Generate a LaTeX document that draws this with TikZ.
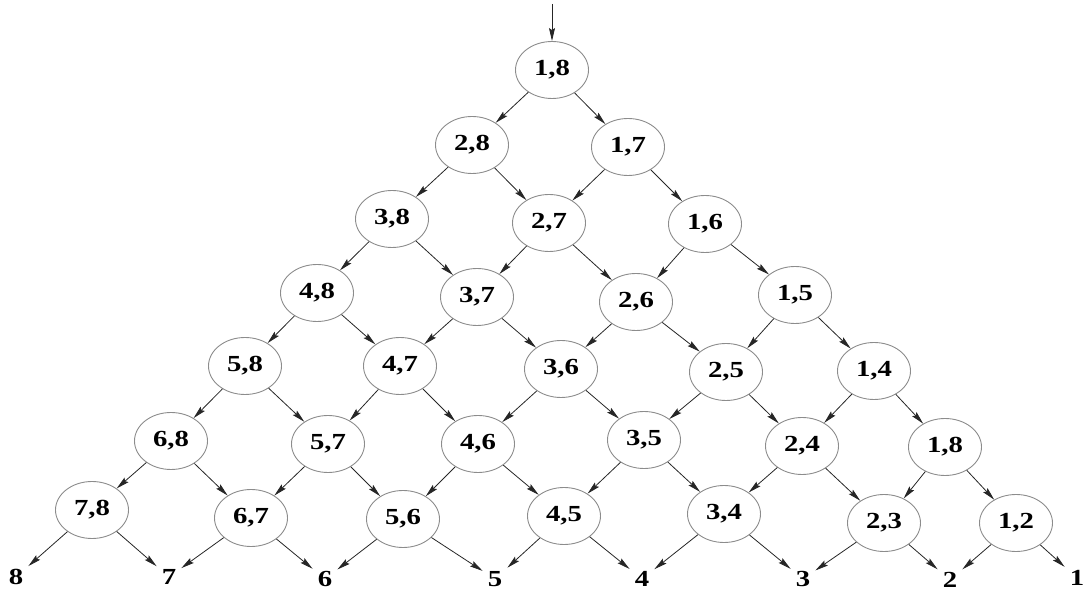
\documentclass[tikz,border=0pt]{standalone}
\usepackage{fontspec}
\newfontfamily\cellfont[FakeStretch=1.25]{Liberation Serif}
\usetikzlibrary{arrows.meta, shapes.geometric}
\tikzset{
    cell/.style={ellipse, draw=gray!90, line width=0.9pt, minimum width=73pt, minimum height=57pt, inner sep=0pt, font=\cellfont\bfseries\fontsize{23}{23}\selectfont},
    leaf/.style={inner sep=5pt, font=\cellfont\bfseries\fontsize{23}{23}\selectfont},
    line/.style={-{Stealth[length=13pt, width=6pt, inset=2pt]}, line width=0.8pt, gray!30!black}
}

\begin{document}
\begin{tikzpicture}[x=1pt, y=-1pt]
        	\useasboundingbox (0,0) rectangle (1085,593);
        	% Lưới tam giác các cặp chỉ số
        	\node (root) [cell] at (552,70) {1,8};
        	\node (p28) [cell] at (472,145) {2,8};
        	\node (p17) [cell] at (628,147) {1,7};
        	\node (p38) [cell] at (392,219) {3,8};
        	\node (p27) [cell] at (549,223) {2,7};
        	\node (p16) [cell] at (705,224) {1,6};
        	\node (p48) [cell] at (317,293) {4,8};
        	\node (p37) [cell] at (477,297) {3,7};
        	\node (p26) [cell] at (636,302) {2,6};
        	\node (p15) [cell] at (795,295) {1,5};
        	\node (p58) [cell] at (245,366) {5,8};
        	\node (p47) [cell] at (400,366) {4,7};
        	\node (p36) [cell] at (561,369) {3,6};
        	\node (p25) [cell] at (726,372) {2,5};
        	\node (p14) [cell] at (874,371) {1,4};
        	\node (p68) [cell] at (171,441) {6,8};
        	\node (p57) [cell] at (328,444) {5,7};
        	\node (p46) [cell] at (478,444) {4,6};
        	\node (p35) [cell] at (644,440) {3,5};
        	\node (p24) [cell] at (802,446) {2,4};
        	\node (p18) [cell] at (945,447) {1,8};
        	\node (p78) [cell] at (92,510) {7,8};
        	\node (p67) [cell] at (251,518) {6,7};
        	\node (p56) [cell] at (403,519) {5,6};
        	\node (p45) [cell] at (564,516) {4,5};
        	\node (p34) [cell] at (724,514) {3,4};
        	\node (p23) [cell] at (884,523) {2,3};
        	\node (p12) [cell] at (1016,523) {1,2};
        	
        	\node (l8) [leaf] at (16,577) {8};
        	\node (l7) [leaf] at (169,577) {7};
        	\node (l6) [leaf] at (325,579) {6};
        	\node (l5) [leaf] at (495,579) {5};
        	\node (l4) [leaf] at (642,579) {4};
        	\node (l3) [leaf] at (803,579) {3};
        	\node (l2) [leaf] at (950,580) {2};
        	\node (l1) [leaf] at (1077,578) {1};
        	\coordinate (in) at (552,4);
        	
        	\draw[line] (in) -- (root);
        	\path (root) edge[line] (p28) edge[line] (p17);
        	\path (p28) edge[line] (p38) edge[line] (p27);
        	\path (p17) edge[line] (p27) edge[line] (p16);
        	\path (p38) edge[line] (p48) edge[line] (p37);
        	\path (p27) edge[line] (p37) edge[line] (p26);
        	\path (p16) edge[line] (p26) edge[line] (p15);
        	\path (p48) edge[line] (p58) edge[line] (p47);
        	\path (p37) edge[line] (p47) edge[line] (p36);
        	\path (p26) edge[line] (p36) edge[line] (p25);
        	\path (p15) edge[line] (p25) edge[line] (p14);
        	\path (p58) edge[line] (p68) edge[line] (p57);
        	\path (p47) edge[line] (p57) edge[line] (p46);
        	\path (p36) edge[line] (p46) edge[line] (p35);
        	\path (p25) edge[line] (p35) edge[line] (p24);
        	\path (p14) edge[line] (p24) edge[line] (p18);
        	\path (p68) edge[line] (p78) edge[line] (p67);
        	\path (p57) edge[line] (p67) edge[line] (p56);
        	\path (p46) edge[line] (p56) edge[line] (p45);
        	\path (p35) edge[line] (p45) edge[line] (p34);
        	\path (p24) edge[line] (p34) edge[line] (p23);
        	\path (p18) edge[line] (p23) edge[line] (p12);
        	\path (p78) edge[line] (l8) edge[line] (l7);
        	\path (p67) edge[line] (l7) edge[line] (l6);
        	\path (p56) edge[line] (l6) edge[line] (l5);
        	\path (p45) edge[line] (l5) edge[line] (l4);
        	\path (p34) edge[line] (l4) edge[line] (l3);
        	\path (p23) edge[line] (l3) edge[line] (l2);
        	\path (p12) edge[line] (l2) edge[line] (l1);
        	
        \end{tikzpicture}
\end{document}
